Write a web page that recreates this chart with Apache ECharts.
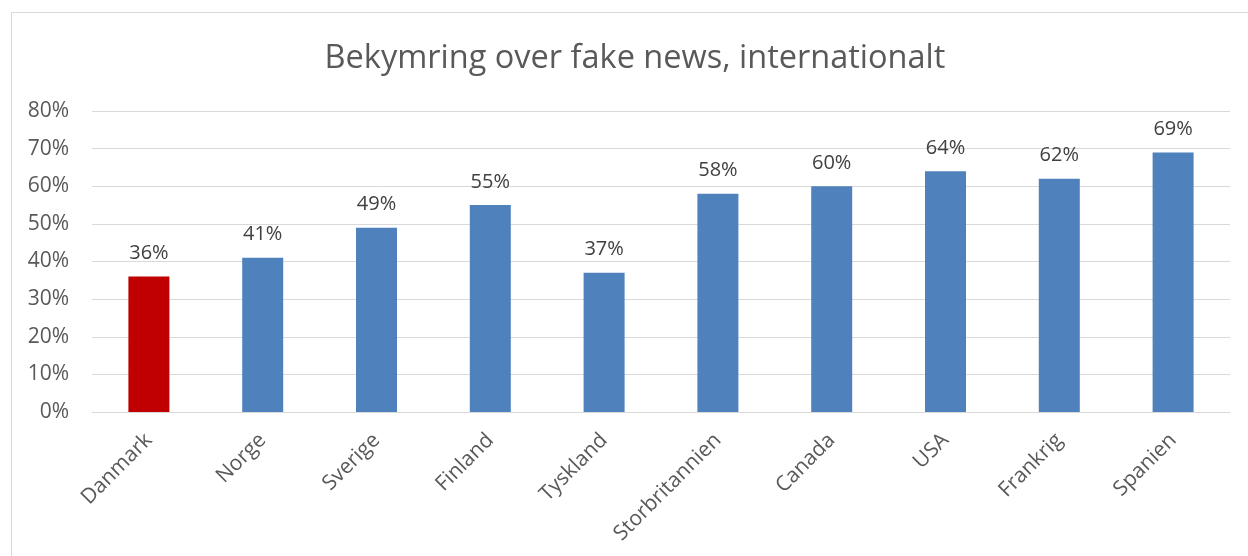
<!DOCTYPE html>
<html>
<head>
<meta charset="utf-8">
<script src="https://cdn.jsdelivr.net/npm/echarts@6/dist/echarts.min.js"></script>
<style>
  html, body { margin: 0; padding: 0; background: #fff; }
  #chart { width: 1248px; height: 556px; }
</style>
</head>
<body>
<div id="chart"></div>
<script>
// Share worried about fake news, by country (%)
const countries = ['Danmark', 'Norge', 'Sverige', 'Finland', 'Tyskland', 'Storbritannien', 'Canada', 'USA', 'Frankrig', 'Spanien'];
const worried = [36, 41, 49, 55, 37, 58, 60, 64, 62, 69];
const highlighted = 'Danmark';
const yTicks = { min: 0, max: 80, interval: 10 };

const FONT = '"Open Sans", "Noto Sans", sans-serif';

const chart = echarts.init(document.getElementById('chart'), null, { renderer: 'canvas' });

chart.setOption({
  animation: false,
  backgroundColor: '#ffffff',
  title: {
    text: 'Bekymring over fake news, internationalt',
    left: 630,
    textAlign: 'center',
    top: 37,
    textStyle: { fontFamily: FONT, fontSize: 32.5, fontWeight: 'normal', color: '#595959' }
  },
  graphic: [{
    type: 'rect',
    shape: { x: 11.5, y: 12.5, width: 1260, height: 600 },
    style: { fill: 'none', stroke: '#d9d9d9', lineWidth: 1 },
    silent: true
  }],
  grid: { left: 92, right: 18, top: 111, bottom: 144 },
  xAxis: {
    type: 'category',
    data: countries,
    axisLine: { lineStyle: { color: '#d9d9d9', width: 1 } },
    axisTick: { show: false },
    axisLabel: {
      rotate: 45,
      margin: 25,
      interval: 0,
      fontFamily: FONT,
      fontSize: 21,
      color: '#595959'
    }
  },
  yAxis: {
    type: 'value',
    min: yTicks.min,
    max: yTicks.max,
    interval: yTicks.interval,
    axisLine: { show: false },
    axisTick: { show: false },
    splitLine: { lineStyle: { color: '#d9d9d9', width: 1 } },
    axisLabel: {
      formatter: '{value}%',
      margin: 23,
      fontFamily: FONT,
      fontSize: 21,
      color: '#595959'
    }
  },
  series: [{
    type: 'bar',
    barWidth: 41,
    data: worried.map((v, i) => ({
      value: v,
      itemStyle: { color: countries[i] === highlighted ? '#c00000' : '#4f81bd' }
    })),
    label: {
      show: true,
      position: 'top',
      distance: 13,
      formatter: '{c}%',
      fontFamily: FONT,
      fontSize: 20,
      color: '#404040'
    }
  }]
});
</script>
</body>
</html>
